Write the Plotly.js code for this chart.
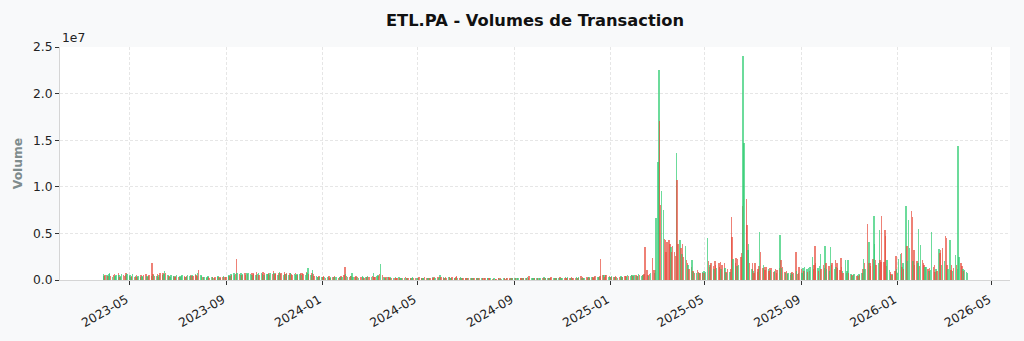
<!DOCTYPE html>
<html>
<head>
<meta charset="utf-8">
<script src="https://cdn.plot.ly/plotly-3.0.1.min.js"></script>
<style>html,body{margin:0;padding:0;background:#f8f9fa;}#chart{width:1024px;height:341px;}</style>
</head>
<body>
<div id="chart"></div>
<script>
// ---- DATA (volumes in millions of shares, one value per trading day) ----
const firstTradingDay = "2023-03-29";
const months = [
  "2023-03","2023-04","2023-05","2023-06","2023-07","2023-08","2023-09","2023-10","2023-11","2023-12",
  "2024-01","2024-02","2024-03","2024-04","2024-05","2024-06","2024-07","2024-08","2024-09","2024-10","2024-11","2024-12",
  "2025-01","2025-02","2025-03","2025-04","2025-05","2025-06","2025-07","2025-08","2025-09","2025-10","2025-11","2025-12",
  "2026-01","2026-02","2026-03"
];
const volumesM = [
  [0.6,0.45,0.55],
  [0.5,0.4,0.6,0.7,0.45,0.35,0.5,0.65,0.4,0.55,0.7,0.5,0.35,0.45,0.6,0.5,0.4,0.55,0.8,0.6],
  [0.4,0.5,0.35,0.45,0.6,0.3,0.4,0.5,0.35,0.45,0.3,0.55,0.4,0.35,0.5,0.6,0.4,0.3,0.45,0.5,0.4,1.8,0.6],
  [0.5,0.4,0.45,0.6,0.35,0.5,0.7,0.55,0.8,0.6,1.0,0.75,0.5,0.45,0.4,0.35,0.5,0.4,0.45,0.3,0.4,0.5],
  [0.35,0.4,0.3,0.45,0.5,0.4,0.35,0.3,0.45,0.5,0.4,0.55,0.45,0.5,0.4,0.6,0.5,0.45,0.7,1.1,0.55],
  [0.4,0.3,0.35,0.3,0.25,0.35,0.4,0.3,0.25,0.3,0.35,0.2,0.25,0.3,0.35,0.4,0.3,0.25,0.35,0.3,0.4,0.35,0.3],
  [0.35,0.4,0.5,0.45,0.6,0.55,0.7,0.5,0.65,2.3,0.8,0.6,0.5,0.7,0.55,0.6,0.75,0.5,0.8,0.65,0.7],
  [0.6,0.7,0.5,0.8,0.65,0.55,0.9,0.6,0.7,0.5,0.75,0.6,0.85,0.55,0.7,0.6,0.65,0.8,0.55,0.7,0.6,0.95],
  [0.7,0.6,0.8,0.55,0.75,0.9,0.6,0.7,0.5,0.85,0.65,0.6,0.75,0.55,0.7,0.8,0.6,0.5,0.65,0.75,0.55,0.6],
  [0.5,0.6,0.7,0.55,0.8,0.65,0.5,0.9,0.7,1.3,0.6,0.5,0.75,1.05,0.6,0.45,0.4,0.35,0.3,0.4,0.35],
  [0.3,0.35,0.4,0.3,0.25,0.35,0.3,0.4,0.25,0.3,0.35,0.3,0.4,0.35,0.3,0.25,0.3,0.35,0.4,0.3,0.5,1.4,0.6],
  [0.4,0.35,0.3,0.45,0.4,0.7,0.35,0.3,0.4,0.35,0.3,0.25,0.35,0.3,0.4,0.3,0.25,0.35,0.3,0.4,0.35],
  [0.3,0.35,0.4,0.7,0.35,0.3,0.4,0.5,0.45,0.6,1.7,0.5,0.35,0.3,0.25,0.3,0.35,0.3,0.25,0.3,0.25],
  [0.25,0.2,0.3,0.25,0.2,0.3,0.25,0.2,0.15,0.25,0.2,0.3,0.2,0.25,0.2,0.15,0.2,0.25,0.3,0.2,0.25,0.2],
  [0.2,0.25,0.3,0.2,0.15,0.25,0.2,0.3,0.25,0.2,0.15,0.2,0.25,0.3,0.2,0.35,0.25,0.2,0.3,0.25,0.35,0.55,0.3],
  [0.3,0.25,0.2,0.3,0.25,0.35,0.3,0.25,0.2,0.3,0.25,0.2,0.3,0.45,0.25,0.2,0.3,0.2,0.25,0.2],
  [0.2,0.15,0.2,0.15,0.25,0.2,0.15,0.2,0.25,0.15,0.2,0.15,0.2,0.25,0.15,0.2,0.15,0.2,0.25,0.2,0.15,0.2,0.15],
  [0.12,0.15,0.1,0.12,0.15,0.1,0.08,0.12,0.15,0.1,0.12,0.1,0.15,0.12,0.1,0.15,0.12,0.1,0.15,0.12,0.18,0.15],
  [0.2,0.15,0.2,0.25,0.15,0.2,0.25,0.2,0.15,0.2,0.25,0.2,0.3,0.25,0.47,0.2,0.25,0.2,0.15,0.2,0.25],
  [0.2,0.25,0.2,0.15,0.25,0.2,0.3,0.2,0.25,0.2,0.15,0.2,0.25,0.3,0.2,0.25,0.2,0.15,0.25,0.2,0.3,0.25,0.2],
  [0.25,0.2,0.3,0.25,0.2,0.3,0.25,0.2,0.3,0.25,0.2,0.25,0.3,0.2,0.25,0.3,0.38,0.25,0.3,0.2,0.25],
  [0.3,0.25,0.35,0.3,0.25,0.3,0.35,0.25,0.3,0.4,0.35,0.3,0.35,0.4,2.25,0.55,0.5,0.3,0.55,0.5,0.35,0.4],
  [0.3,0.35,0.4,0.3,0.35,0.4,0.3,0.25,0.35,0.3,0.4,0.35,0.3,0.45,0.4,0.35,0.5,0.4,0.45,0.5,0.55,0.4,0.5],
  [0.5,0.4,0.45,0.6,0.5,0.4,0.55,0.5,0.6,3.5,1.1,0.5,0.4,0.6,0.7,2.4,1.1,0.7,1.1,6.7],
  [12.7,22.5,17.1,8.0,9.6,7.5,4.4,4.3,3.0,4.1,4.3,3.9,3.5,3.0,3.6,3.0,2.6,13.6,10.7,3.9,4.3],
  [3.4,2.8,3.9,2.5,3.6,2.2,1.8,1.6,1.2,1.4,2.1,1.0,0.9,0.8,0.7,1.1,0.9,0.8,0.7,0.9,0.8,1.0],
  [0.8,0.9,4.5,2.0,1.4,1.6,1.8,1.5,1.2,2.0,1.6,1.3,1.8,1.4,1.9,1.2,1.6,1.8,1.3,0.9,0.7,1.2],
  [0.9,1.2,6.8,4.6,2.3,1.8,2.4,1.5,2.3,1.6,2.5,2.9,7.9,24.0,14.7,8.7,5.9,3.2,3.9,1.8,1.2],
  [1.8,1.0,0.8,1.8,0.9,1.2,1.5,5.1,3.0,1.3,1.6,1.4,1.1,1.4,1.2,1.0,1.3,1.1,1.3,0.9,1.0,1.2,0.8],
  [1.1,1.3,4.8,2.1,1.3,1.4,0.9,0.7,1.0,0.6,0.8,0.5,0.7,0.9,0.6,0.8,3.0,1.0,0.6,0.8,1.4],
  [1.2,0.8,1.3,1.0,1.4,1.2,0.9,1.3,1.0,1.4,2.5,1.2,1.6,3.6,1.8,1.3,1.0,1.5,2.75,1.2,1.6,1.3],
  [3.7,1.8,1.2,1.5,1.0,3.5,1.6,1.8,1.2,2.1,1.4,1.8,1.3,1.1,2.4,1.4,1.0,0.8,2.2,0.8,1.0,2.1,0.8],
  [0.6,0.5,0.4,0.5,0.6,0.4,0.5,0.4,0.6,0.5,0.7,1.2,2.3,1.8,1.2,6.0,1.8,4.1,1.8,1.5],
  [2.3,6.9,3.9,2.1,1.6,1.8,5.4,2.2,1.9,6.9,1.9,5.4,4.7,1.5,2.1,1.1,0.9,0.6,0.5,0.6,1.0,2.6,1.2],
  [0.8,2.3,2.8,2.9,1.4,1.8,1.2,7.9,3.6,2.0,6.4,3.4,7.4,6.8,2.0,3.2,1.6,2.0,1.8,5.5,1.5,3.75],
  [2.1,1.8,1.6,1.4,1.4,1.2,1.0,1.3,1.1,5.1,1.4,1.6,0.9,1.2,1.0,3.3,2.9,3.2,1.6,3.4],
  [2.0,4.75,4.5,1.6,1.2,4.3,1.1,1.6,1.0,1.3,2.7,1.6,1.2,14.4,2.5,1.8,1.5,1.2,1.0,1.1,0.9,0.8]
];
// G = close >= open (green), R = close < open (red)
const directions = [
  "GGR","GRGGRGRRGGRGRGGRRGRG","RGGRGRGRRGGRGGRRGRGRGRR","GRGRGGRGRGGRGRRGGRGRRG","RGRGGRRGRGGRRGRGRRGRG",
  "GRRGRGGRRGRGRRGGRGRRGRG","RGGRGRGGRRGRGGRGRRGRG","GRGRRGRGGRGRRGRGGRRGRR","GRRGRGGRGRRGRGRGRRGRGG","RGRGRRGRGGRGRGRRGRGRG",
  "GRRGRGGRRGRGRGGRRGRGRRG","RGRGRGGRRGRGRRGGRGRGR","RGRGRRGGRRGRGRGRGRRGR","GRGRRGRGGRGRRGRGRGGRRG","RGRGRGGRRGRGRGRRGGRGRGR",
  "GRGRRGRGGRRGRRGRGRGR","GRRGRGRGGRRGRGRGRRGRGGR","RGRGGRRGRGRGGRRGRGRGRG","GRGRGGRRGRGRGRRGRGGRG","RGRGRRGRGGRGRRGRGRGGRGR",
  "GRGRRGRGRGRRGGRGRGRRG","RGRGRGRRGRGRGRRRGRRRGR","GRGRGRRGRGGRGRRGGRGRGRG","RGRGRGRGRRRRGRGRRGRG","GGRRGGRRRRRRGRRRRGRRG",
  "RGRRGRRGRRGRGRGRRGRGRG","RGGRRGRRGRRGRRRGRRGRGR","GRRRGRRGRGRRRGGRRGGRG","RGRRGRRGRRGRRRGRRGRRGRR","RRGRGRRGRRGRGRGRRGRGR",
  "RGGRGGRGRGGRRRRGRGGRRG","GRGRGGRRGRGRRRRRGRGRGGR","GRGRGRGRGRGRGRGRRGRR","RGGRRGGRRRRRRRGGRRGRRRG","GGGRRGRGRGGGRRGRRRGGRG",
  "RRRGGRGRGGRRRGRGRRGR","GRRRGGRRGRGRGGGRRGRGGG"
];
const xTickDates = ["2023-05-01","2023-09-01","2024-01-01","2024-05-01","2024-09-01","2025-01-01","2025-05-01","2025-09-01","2026-01-01","2026-05-01"];
const xTickLabels = ["2023-05","2023-09","2024-01","2024-05","2024-09","2025-01","2025-05","2025-09","2026-01","2026-05"];
const yTickVals = [0, 5e6, 1e7, 1.5e7, 2e7, 2.5e7];
const yTickLabels = ["0.0","0.5","1.0","1.5","2.0","2.5"];

// ---- build trading-day series ----
const GREEN = "#2ecc71", RED = "#e74c3c";
const xs = [], ys = [], cols = [];
months.forEach((m, i) => {
  const yr = Number(m.slice(0,4)), mo = Number(m.slice(5,7));
  const startDay = (m === firstTradingDay.slice(0,7)) ? Number(firstTradingDay.slice(8)) : 1;
  const nDays = new Date(Date.UTC(yr, mo, 0)).getUTCDate();
  const wd = [];
  for (let d = startDay; d <= nDays; d++) {
    const dow = new Date(Date.UTC(yr, mo - 1, d)).getUTCDay();
    if (dow !== 0 && dow !== 6) wd.push(m + "-" + String(d).padStart(2, "0"));
  }
  volumesM[i].forEach((v, j) => {
    if (j < wd.length) {
      xs.push(wd[j]);
      ys.push(v * 1e6);
      cols.push((directions[i][j] || "G") === "G" ? GREEN : RED);
    }
  });
});

const font = "DejaVu Sans, Liberation Sans, sans-serif";
const trace = {
  type: "bar", x: xs, y: ys,
  width: 0.6 * 86400000,
  marker: { color: cols, opacity: 0.7, line: { width: 0 } },
  hoverinfo: "x+y"
};
const layout = {
  width: 1024, height: 341,
  paper_bgcolor: "#f8f9fa", plot_bgcolor: "#ffffff",
  margin: { l: 60, r: 14, t: 47, b: 61, pad: 0 },
  showlegend: false, bargap: 0,
  font: { family: font, size: 12, color: "#222" },
  title: {
    text: "<b>ETL.PA - Volumes de Transaction</b>",
    font: { family: font, size: 16.3, color: "#111" },
    x: 0.5, xref: "paper", xanchor: "center",
    y: 1 - 20 / 341, yref: "container", yanchor: "middle"
  },
  xaxis: {
    type: "date", range: ["2023-02-02", "2026-05-24"],
    tickmode: "array", tickvals: xTickDates, ticktext: xTickLabels, tickangle: -30,
    ticks: "outside", ticklen: 4, tickwidth: 1, tickcolor: "#333",
    ticklabelstandoff: 3, ticklabelshift: -3,
    tickfont: { family: font, size: 12.3, color: "#222" },
    showgrid: true, gridcolor: "#e6e6e6", griddash: "3px,2px", gridwidth: 1,
    showline: true, linecolor: "#d5d5d5", linewidth: 1, zeroline: false, fixedrange: true
  },
  yaxis: {
    range: [0, 2.5e7],
    tickmode: "array", tickvals: yTickVals, ticktext: yTickLabels,
    ticks: "outside", ticklen: 4, tickwidth: 1, tickcolor: "#333",
    tickfont: { family: font, size: 12.3, color: "#222" },
    showgrid: true, gridcolor: "#e6e6e6", griddash: "3px,2px", gridwidth: 1,
    showline: true, linecolor: "#d5d5d5", linewidth: 1, zeroline: false, fixedrange: true,
    title: { text: "<b>Volume</b>", font: { family: font, size: 12.3, color: "#7f8c8d" }, standoff: 7 }
  },
  annotations: [{
    text: "1e7", xref: "paper", yref: "paper", x: 0, y: 1, xanchor: "left", yanchor: "bottom",
    showarrow: false, font: { family: font, size: 12.3, color: "#222" }
  }]
};
Plotly.newPlot("chart", [trace], layout, { displayModeBar: false });
</script>
</body>
</html>
